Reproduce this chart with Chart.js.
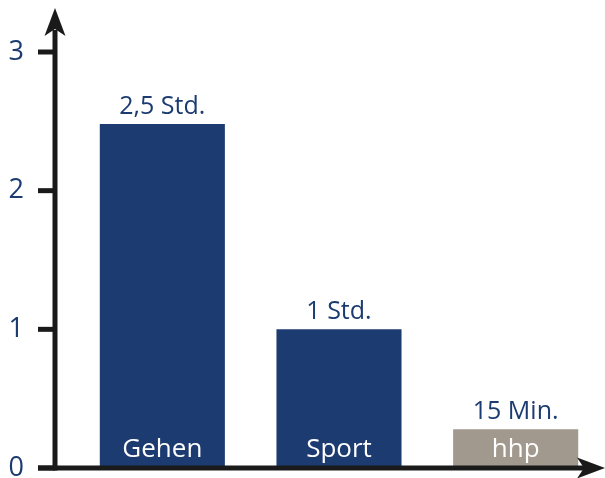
<!DOCTYPE html>
<html>
<head>
<meta charset="utf-8">
<script src="https://cdn.jsdelivr.net/npm/chart.js@4"></script>
<style>
  html, body { margin: 0; padding: 0; background: #fff; }
  #wrap { width: 605px; height: 478px; }
</style>
</head>
<body>
<div id="wrap"><canvas id="chart" width="605" height="478"></canvas></div>
<script>
// data
const categories = ['Gehen', 'Sport', 'hhp'];
const hours = [2.48, 1, 0.28];
const valueLabels = ['2,5 Std.', '1 Std.', '15 Min.'];
const yTicks = [0, 1, 2, 3];
const barColors = ['#1c3b70', '#1c3b70', '#a1988e'];

const BLUE = '#1c3b70';
const FONT = '"Open Sans", "DejaVu Sans", sans-serif';

// draws the arrow axes, value labels and category names
const decorPlugin = {
    id: 'decor',
    afterDatasetsDraw(chart) {
        const ctx = chart.ctx;
        const area = chart.chartArea;
        const yScale = chart.scales.y;
        const axisX = 55;
        const axisY = area.bottom;

        ctx.save();
        ctx.fillStyle = '#1a1a1a';
        ctx.strokeStyle = '#1a1a1a';
        ctx.lineWidth = 5;

        // y axis line + arrow
        ctx.beginPath();
        ctx.moveTo(axisX, axisY + 2.5);
        ctx.lineTo(axisX, 30);
        ctx.stroke();
        ctx.beginPath();
        ctx.moveTo(axisX, 8);
        ctx.lineTo(axisX + 10.5, 36);
        ctx.lineTo(axisX, 29);
        ctx.lineTo(axisX - 10.5, 36);
        ctx.closePath();
        ctx.fill();

        // x axis line + arrow
        ctx.beginPath();
        ctx.moveTo(38, axisY);
        ctx.lineTo(585, axisY);
        ctx.stroke();
        ctx.beginPath();
        ctx.moveTo(605, axisY);
        ctx.lineTo(577, axisY - 10.5);
        ctx.lineTo(584, axisY);
        ctx.lineTo(577, axisY + 10.5);
        ctx.closePath();
        ctx.fill();

        // tick marks on the y axis
        yTicks.forEach(v => {
            const py = yScale.getPixelForValue(v);
            ctx.beginPath();
            ctx.moveTo(38, py);
            ctx.lineTo(axisX, py);
            ctx.stroke();
        });

        // labels above and inside bars
        const meta = chart.getDatasetMeta(0);
        ctx.textAlign = 'center';
        ctx.textBaseline = 'alphabetic';
        meta.data.forEach((bar, i) => {
            ctx.fillStyle = BLUE;
            ctx.font = '25px ' + FONT;
            ctx.fillText(valueLabels[i], bar.x, bar.y - 10);
            ctx.fillStyle = '#ffffff';
            ctx.font = '26px ' + FONT;
            ctx.fillText(categories[i], bar.x, axisY - 11);
        });
        ctx.restore();
    }
};

new Chart(document.getElementById('chart'), {
    type: 'bar',
    data: {
        labels: categories,
        datasets: [{
            data: hours,
            backgroundColor: barColors,
            borderWidth: 0,
            categoryPercentage: 1,
            barPercentage: 0.708
        }]
    },
    options: {
        responsive: false,
        animation: false,
        layout: { padding: { left: 0, right: 1, top: 52, bottom: 10 } },
        plugins: {
            legend: { display: false },
            tooltip: { enabled: false }
        },
        scales: {
            x: { display: false },
            y: {
                min: 0,
                max: 3,
                grid: { display: false, drawTicks: false },
                border: { display: false },
                ticks: {
                    stepSize: 1,
                    padding: 50,
                    color: BLUE,
                    font: { family: FONT, size: 27 }
                },
                afterFit(scale) {
                    scale.width = 74;
                    scale.paddingTop = 0;
                    scale.paddingBottom = 0;
                }
            }
        }
    },
    plugins: [decorPlugin]
});
</script>
</body>
</html>
